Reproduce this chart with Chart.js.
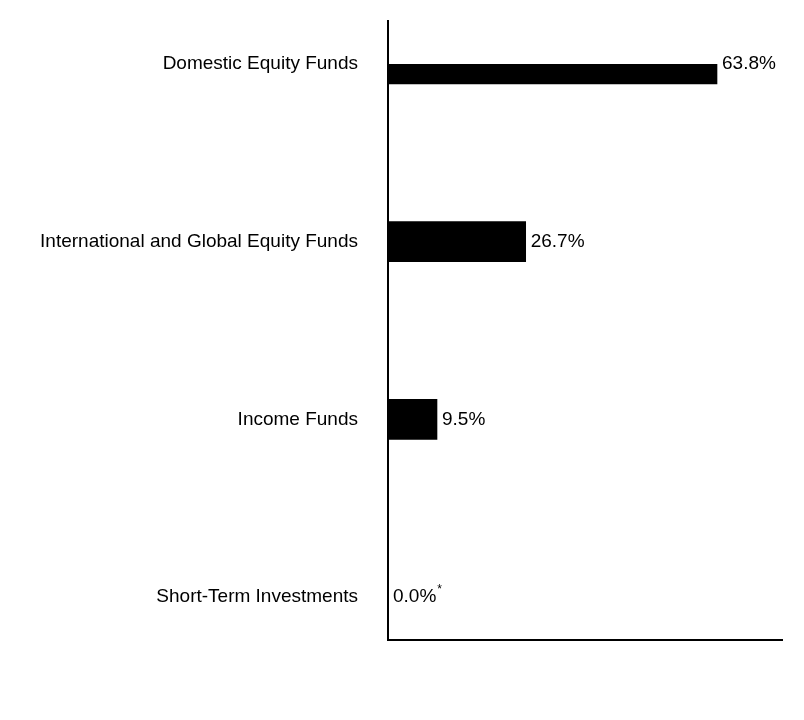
<!DOCTYPE html>
<html>
<head>
<script src="https://cdn.jsdelivr.net/npm/chart.js@4"></script>
<style>
  body { margin: 0; background: #fff; }
  #wrap { width: 804px; height: 720px; }
</style>
</head>
<body>
<div id="wrap"><canvas id="c"></canvas></div>
<script>
const categories = [
  "Domestic Equity Funds",
  "International and Global Equity Funds",
  "Income Funds",
  "Short-Term Investments"
];
const values = [63.8, 26.7, 9.5, 0.0];
const valueLabels = ["63.8%", "26.7%", "9.5%", "0.0%"];
const footnoteMarks = ["", "", "", "*"];

const FONT = "Arial, 'Liberation Sans', sans-serif";

// axis lines extend past the first/last category centres
const axisLines = {
  id: "axisLines",
  afterDraw(chart) {
    const { ctx, chartArea } = chart;
    ctx.save();
    ctx.strokeStyle = "#000";
    ctx.lineWidth = 2;
    ctx.beginPath();
    ctx.moveTo(chartArea.left, chartArea.top - 44);
    ctx.lineTo(chartArea.left, chartArea.bottom + 43);
    ctx.lineTo(chartArea.right, chartArea.bottom + 43);
    ctx.stroke();
    ctx.restore();
  }
};

const valueLabelPlugin = {
  id: "valueLabels",
  afterDatasetsDraw(chart) {
    const { ctx } = chart;
    const meta = chart.getDatasetMeta(0);
    ctx.save();
    ctx.fillStyle = "#000";
    ctx.textBaseline = "middle";
    meta.data.forEach((bar, i) => {
      const x = bar.x + 5;
      ctx.font = "19px " + FONT;
      ctx.fillText(valueLabels[i], x, bar.y);
      if (footnoteMarks[i]) {
        const w = ctx.measureText(valueLabels[i]).width;
        ctx.font = "12px " + FONT;
        ctx.fillText(footnoteMarks[i], x + w + 1, bar.y - 7);
      }
    });
    ctx.restore();
  }
};

new Chart(document.getElementById("c"), {
  type: "bar",
  data: {
    labels: categories,
    datasets: [{
      data: values,
      backgroundColor: "#000",
      barThickness: 40
    }]
  },
  options: {
    indexAxis: "y",
    responsive: true,
    maintainAspectRatio: false,
    animation: false,
    layout: { padding: { top: 64, bottom: 123, right: 21, left: 0 } },
    plugins: { legend: { display: false }, tooltip: { enabled: false } },
    scales: {
      x: {
        min: 0,
        max: 76.6,
        display: false
      },
      y: {
        offset: false,
        grid: { display: false },
        border: { display: false },
        ticks: { color: "#000", font: { size: 19, family: FONT }, padding: 22 },
        afterFit(scale) { scale.width = 388; }
      }
    }
  },
  plugins: [axisLines, valueLabelPlugin]
});
</script>
</body>
</html>
